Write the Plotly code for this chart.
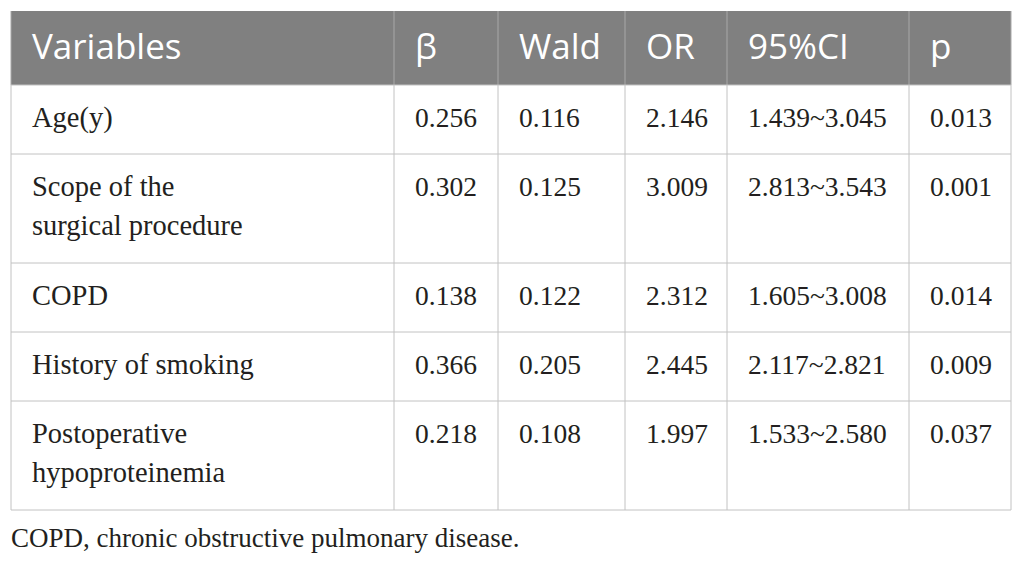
import plotly.graph_objects as go

# Table data
headers = ["Variables", "β", "Wald", "OR", "95%CI", "p"]
variables = [["Age(y)"], ["Scope of the", "surgical procedure"], ["COPD"],
             ["History of smoking"], ["Postoperative", "hypoproteinemia"]]
beta = ["0.256", "0.302", "0.138", "0.366", "0.218"]
wald = ["0.116", "0.125", "0.122", "0.205", "0.108"]
odds = ["2.146", "3.009", "2.312", "2.445", "1.997"]
ci95 = ["1.439~3.045", "2.813~3.543", "1.605~3.008", "2.117~2.821", "1.533~2.580"]
pval = ["0.013", "0.001", "0.014", "0.009", "0.037"]
footnote = "COPD, chronic obstructive pulmonary disease."

# Layout in page pixels (the page body has an 8px margin)
W, H = 1026, 563
col_widths = [383, 104, 127, 102, 182, 102]
left, top = 11, 11
header_h = 74
line_gap = 39
pad_x = 21
pad_top = 35

# column edges and row edges
col_edges = [left]
for w in col_widths:
    col_edges.append(col_edges[-1] + w)
row_heights = [29 + 40 * len(v) for v in variables]
row_edges = [top + header_h]
for h in row_heights:
    row_edges.append(row_edges[-1] + h)
right, bottom = col_edges[-1], row_edges[-1]

ink = "#231f20"
serif = dict(family="Liberation Serif", size=27.5, color=ink)
serif_label = dict(family="Liberation Serif", size=28.5, color=ink)
sans = dict(family="Open Sans", size=35, color="white")
body_line = "#c2c2c2"

fig = go.Figure()

# header background
fig.add_shape(type="rect", x0=left, x1=right, y0=top, y1=top + header_h,
              fillcolor="#808080", line_width=0, layer="below")

# grid lines
for x in col_edges:
    fig.add_shape(type="line", x0=x, x1=x, y0=top, y1=top + header_h,
                  line=dict(color="#a8a8a8", width=1))
    fig.add_shape(type="line", x0=x, x1=x, y0=top + header_h, y1=bottom,
                  line=dict(color=body_line, width=1))
for y in row_edges:
    fig.add_shape(type="line", x0=left, x1=right, y0=y, y1=y,
                  line=dict(color=body_line, width=1))

# header text
fig.add_trace(go.Scatter(
    x=[c + pad_x for c in col_edges[:-1]], y=[top + header_h / 2 + 2] * len(headers),
    text=headers, mode="text", textposition="middle right",
    textfont=sans, hoverinfo="skip", showlegend=False))

# first column (may wrap over two lines)
vx, vy, vt = [], [], []
for i, lines in enumerate(variables):
    for j, s in enumerate(lines):
        vx.append(col_edges[0] + pad_x)
        vy.append(row_edges[i] + pad_top + j * line_gap)
        vt.append(s)
fig.add_trace(go.Scatter(x=vx, y=vy, text=vt, mode="text",
                         textposition="middle right", textfont=serif_label,
                         hoverinfo="skip", showlegend=False))

# numeric columns
for k, col in enumerate([beta, wald, odds, ci95, pval], start=1):
    fig.add_trace(go.Scatter(
        x=[col_edges[k] + pad_x] * len(col),
        y=[row_edges[i] + pad_top for i in range(len(col))],
        text=col, mode="text", textposition="middle right", textfont=serif,
        hoverinfo="skip", showlegend=False))

# footnote
fig.add_trace(go.Scatter(x=[left], y=[bottom + 30], text=[footnote], mode="text",
                         textposition="middle right",
                         textfont=dict(family="Liberation Serif", size=27, color=ink),
                         hoverinfo="skip", showlegend=False))

fig.update_xaxes(range=[8, W], visible=False, fixedrange=True)
fig.update_yaxes(range=[H, 8], visible=False, fixedrange=True)
fig.update_layout(width=W - 8, height=H - 8, margin=dict(l=0, r=0, t=0, b=0),
                  paper_bgcolor="white", plot_bgcolor="white")

fig.write_html("out.html")
